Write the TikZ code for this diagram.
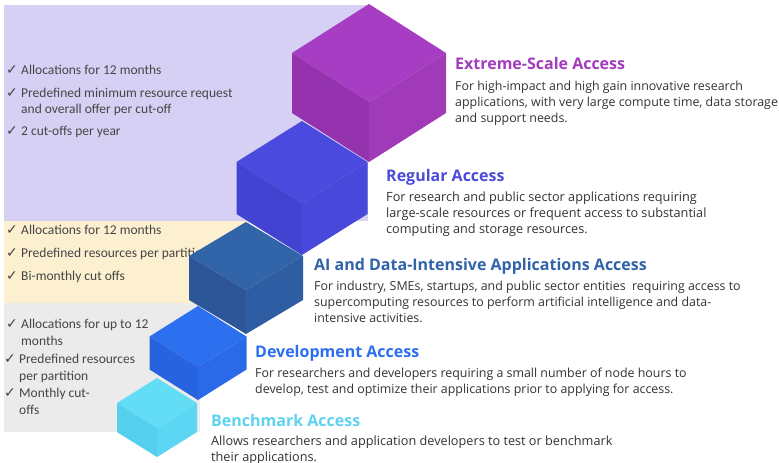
\documentclass[tikz,border=0pt]{standalone}
\usepackage{fontspec}
\setmainfont{Open Sans}
\newfontfamily\calib{Carlito}
\newfontfamily\sym{DejaVu Sans}
\definecolor{lav}{HTML}{D6D1F4}
\definecolor{cream}{HTML}{FDF0D0}
\definecolor{lgray}{HTML}{EBEBEB}
\definecolor{bodyc}{HTML}{333333}
\definecolor{listc}{HTML}{454545}
\definecolor{pT}{HTML}{A63DC3}\definecolor{pL}{HTML}{9533AE}\definecolor{pR}{HTML}{A03AB9}
\definecolor{rT}{HTML}{4A4ADE}\definecolor{rL}{HTML}{4343D1}\definecolor{rR}{HTML}{4848DA}
\definecolor{aT}{HTML}{3264A9}\definecolor{aL}{HTML}{2D5699}\definecolor{aR}{HTML}{2F5DA3}
\definecolor{dT}{HTML}{2C6FEF}\definecolor{dL}{HTML}{2763DF}\definecolor{dR}{HTML}{2A6AE9}
\definecolor{bT}{HTML}{63DDF6}\definecolor{bL}{HTML}{55CFEE}\definecolor{bR}{HTML}{5CD7F3}
\definecolor{hP}{HTML}{A23BBD}\definecolor{hR}{HTML}{4B4BD8}\definecolor{hA}{HTML}{3063A8}
\definecolor{hD}{HTML}{2B6FEF}\definecolor{hB}{HTML}{5DD3F0}
% cube: #1 x, #2 y (top vertex), #3 half width, #4 half height, #5 edge, #6 colour prefix
\newcommand\isocube[6]{%
  \fill[#6T] (#1,#2) -- ++(-#3,#4) -- ++(#3,#4) -- ++(#3,-#4) -- cycle;
  \fill[#6L] (#1-#3,#2+#4) -- (#1,#2+2*#4) -- ++(0,#5) -- (#1-#3,#2+#4+#5) -- cycle;
  \fill[#6R] (#1+#3,#2+#4) -- (#1,#2+2*#4) -- ++(0,#5) -- (#1+#3,#2+#4+#5) -- cycle;
}
\tikzset{
  head/.style={anchor=base west, inner sep=0pt, font=\fontsize{16}{18}\selectfont\bfseries},
  body/.style={anchor=base west, inner sep=0pt, align=left, text=bodyc, font=\fontsize{12.4}{16}\selectfont},
  bodyw/.style={body, font=\fontsize{12.7}{16}\selectfont},
  item/.style={anchor=base west, inner sep=0pt, align=left, text=listc, font=\calib\fontsize{13.5}{16}\selectfont},
  itemg/.style={item, font=\calib\fontsize{13.5}{17}\selectfont},
  tick/.style={anchor=base west, inner sep=0pt, text=listc, font=\sym\fontsize{14}{14}\selectfont}
}
\begin{document}
\begin{tikzpicture}[x=1pt,y=-1pt]
\useasboundingbox (0,0) rectangle (779,463);
\fill[white] (0,0) rectangle (779,463);
% panels
\fill[lav] (4,5) rectangle (368,221);
\fill[cream] (4,221) rectangle (250,303);
\fill[lgray] (4,303) rectangle (200,432);
% lists (anchor = baseline of last line)
\node[tick] (t1) at (6,74) {✓};
\node[item] (l1) at (21,74) {Allocations for 12 months};
\node[tick] (t2) at (6,97) {✓};
\node[item] (l2) at (21,113) {Predefined minimum resource request\\and overall offer per cut-off};
\node[tick] (t3) at (6,135) {✓};
\node[item] (l3) at (21,135) {2 cut-offs per year};
\node[tick] (t4) at (6,234) {✓};
\node[item] (l4) at (21,234) {Allocations for 12 months};
\node[tick] (t5) at (6,257) {✓};
\node[item] (l5) at (21,257) {Predefined resources per partition};
\node[tick] (t6) at (6,280) {✓};
\node[item] (l6) at (21,280) {Bi-monthly cut offs};
\node[tick] (t7) at (6,328) {✓};
\node[itemg] (l7) at (21,345) {Allocations for up to 12\\months};
\node[tick] (t8) at (4,363) {✓};
\node[itemg] (l8) at (19,380) {Predefined resources\\per partition};
\node[tick] (t9) at (4,397) {✓};
\node[itemg] (l9) at (19,414) {Monthly cut-\\offs};
% cubes
\isocube{157}{378}{40}{25}{29}{b}
\isocube{198}{306}{48.5}{30.5}{33}{d}
\isocube{246}{222}{57}{34}{44}{a}
\isocube{302}{121}{65.5}{41}{52}{r}
\isocube{369}{4}{77}{49}{60}{p}
% texts
\node[head, text=hP] (h1) at (455,69) {Extreme-Scale Access};
\node[body] (b1) at (455,122) {For high-impact and high gain innovative research\\applications, with very large compute time, data storage\\and support needs.};
\node[head, text=hR] (h2) at (386,181) {Regular Access};
\node[bodyw] (b2) at (386,233) {For research and public sector applications requiring\\large-scale resources or frequent access to substantial\\computing and storage resources.};
\node[head, text=hA] (h3) at (314,270) {AI and Data-Intensive Applications Access};
\node[body] (b3) at (314,322) {For industry, SMEs, startups, and public sector entities\ \ requiring access to\\supercomputing resources to perform artificial intelligence and data-\\intensive activities.};
\node[head, text=hD] (h4) at (255,357) {Development Access};
\node[body] (b4) at (255,393) {For researchers and developers requiring a small number of node hours to\\develop, test and optimize their applications prior to applying for access.};
\node[head, text=hB] (h5) at (211,426) {Benchmark Access};
\node[bodyw] (b5) at (211,461) {Allows researchers and application developers to test or benchmark\\their applications.};
\end{tikzpicture}
\end{document}
